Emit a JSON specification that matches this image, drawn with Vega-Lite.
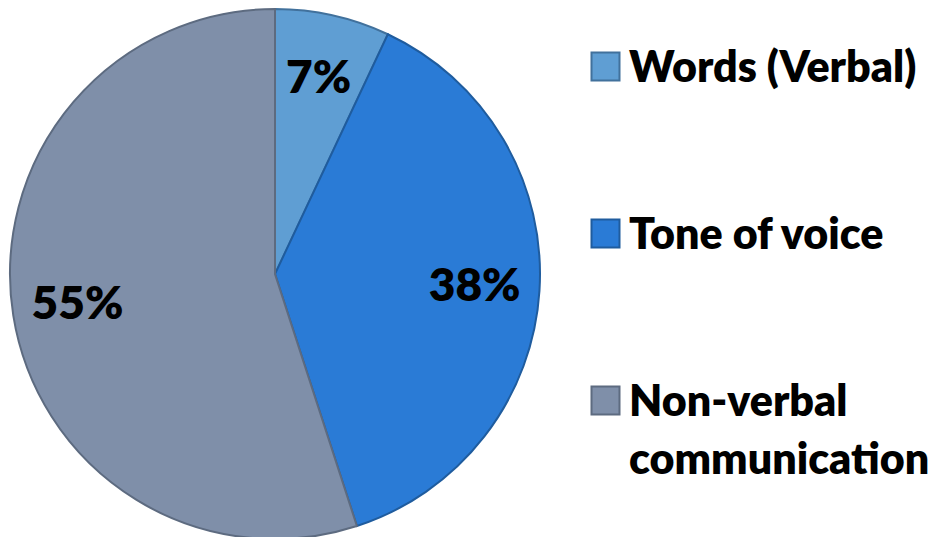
{
  "$schema": "https://vega.github.io/schema/vega-lite/v6.json",
  "width": 540,
  "height": 530,
  "background": "white",
  "config": {"view": {"stroke": null}},
  "data": {"values": [
    {"category": "Words (Verbal)", "value": 7, "label": "7%", "idx": 1},
    {"category": "Tone of voice", "value": 38, "label": "38%", "idx": 2},
    {"category": "Non-verbal communication", "value": 55, "label": "55%", "idx": 3}
  ]},
  "encoding": {
    "theta": {"field": "value", "type": "quantitative", "stack": true},
    "order": {"field": "idx", "type": "quantitative"}
  },
  "layer": [
    {
      "mark": {"type": "arc", "strokeWidth": 2},
      "encoding": {
        "color": {
          "field": "category", "type": "nominal",
          "scale": {"domain": ["Words (Verbal)", "Tone of voice", "Non-verbal communication"], "range": ["#5F9ED3", "#2A7BD6", "#7F8FA9"]},
          "legend": {
            "title": null, "orient": "none", "legendX": 579, "legendY": 36,
            "symbolType": "square", "symbolSize": 784, "symbolStrokeWidth": 2,
            "labelFont": "Lato", "labelFontWeight": 800, "labelFontSize": 43, "labelColor": "black",
            "labelLimit": 0, "labelOffset": 2, "rowPadding": 121, "labelBaseline": "alphabetic",
            "labelExpr": "datum.value == 'Non-verbal communication' ? ['Non-verbal', 'communication'] : datum.label",
            "encode": {"labels": {"update": {"dy": {"value": 15}, "lineHeight": {"value": 58}}}}
          }
        },
        "stroke": {
          "field": "category", "type": "nominal",
          "scale": {"domain": ["Words (Verbal)", "Tone of voice", "Non-verbal communication"], "range": ["#41719C", "#1F5C9E", "#5D6B80"]},
          "legend": {
            "title": null, "orient": "none", "legendX": 579, "legendY": 36,
            "symbolType": "square", "symbolSize": 784, "symbolStrokeWidth": 2,
            "labelFont": "Lato", "labelFontWeight": 800, "labelFontSize": 43, "labelColor": "black",
            "labelLimit": 0, "labelOffset": 2, "rowPadding": 121, "labelBaseline": "alphabetic",
            "labelExpr": "datum.value == 'Non-verbal communication' ? ['Non-verbal', 'communication'] : datum.label",
            "encode": {"labels": {"update": {"dy": {"value": 15}, "lineHeight": {"value": 58}}}}
          }
        }
      }
    },
    {
      "mark": {"type": "text", "radius": 200, "font": "Lato", "fontWeight": 800, "fontSize": 46, "fill": "black"},
      "encoding": {"text": {"field": "label"}}
    }
  ]
}
